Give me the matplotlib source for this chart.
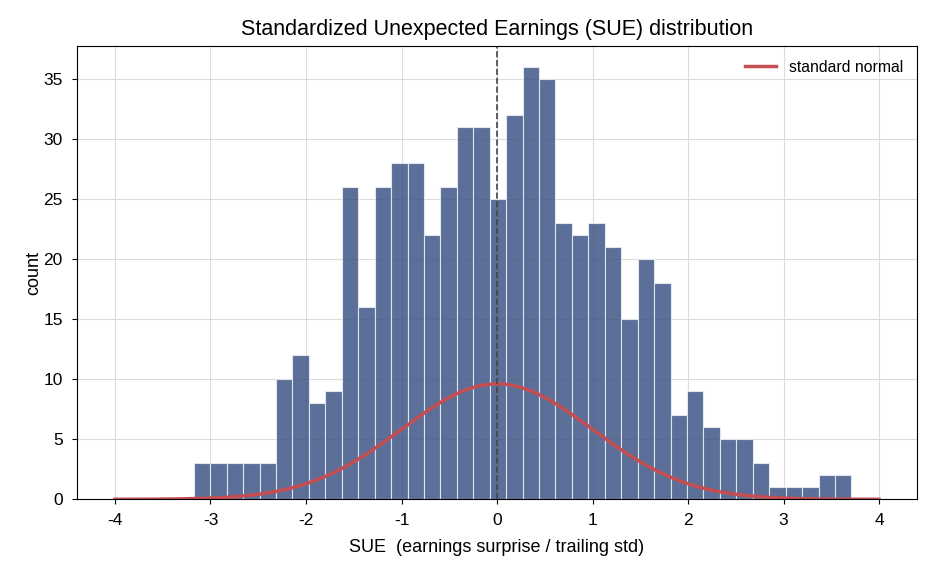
import numpy as np
import matplotlib.pyplot as plt

plt.rcParams['font.family'] = ['Liberation Sans', 'DejaVu Sans']
plt.rcParams['axes.unicode_minus'] = False

# histogram of SUE values, 40 equal bins between min and max
sue_min = -3.175
sue_max = 3.711
counts = [3, 3, 3, 3, 3, 10, 12, 8, 9, 26,
          16, 26, 28, 28, 22, 26, 31, 31, 25, 32,
          36, 35, 23, 22, 23, 21, 15, 20, 18, 7,
          9, 6, 5, 5, 3, 1, 1, 1, 2, 2]
n_obs = sum(counts)

edges = np.linspace(sue_min, sue_max, len(counts) + 1)

# standard normal reference curve
xs = np.linspace(-4, 4, 200)
pdf = np.exp(-xs**2 / 2) / np.sqrt(2 * np.pi)
curve = pdf * n_obs * (xs[1] - xs[0])

fig = plt.figure(figsize=(9.36, 5.72), dpi=100)
ax = fig.add_axes([0.082, 0.127, 0.898, 0.793])

ax.grid(True, color='#dcdcdc', linewidth=0.8)
ax.set_axisbelow(True)

ax.hist(edges[:-1], bins=edges, weights=counts, color='#3b5283', alpha=0.83,
        edgecolor='#eef0f8', linewidth=0.8)
ax.plot(xs, curve, color='#c44e52', linewidth=2.5, label='standard normal')
ax.axvline(0, color='#444444', linestyle='--', linewidth=1.2)

ax.set_title('Standardized Unexpected Earnings (SUE) distribution', fontsize=15.5, pad=8)
ax.set_xlabel('SUE  (earnings surprise / trailing std)', fontsize=13, labelpad=8)
ax.set_ylabel('count', fontsize=13, labelpad=1)
ax.tick_params(labelsize=12.5, pad=6.5)
ax.set_ylim(0, 36 * 1.05)
ax.legend(loc='upper right', frameon=False, fontsize=11.3)

fig.savefig('out.png', dpi=100)
